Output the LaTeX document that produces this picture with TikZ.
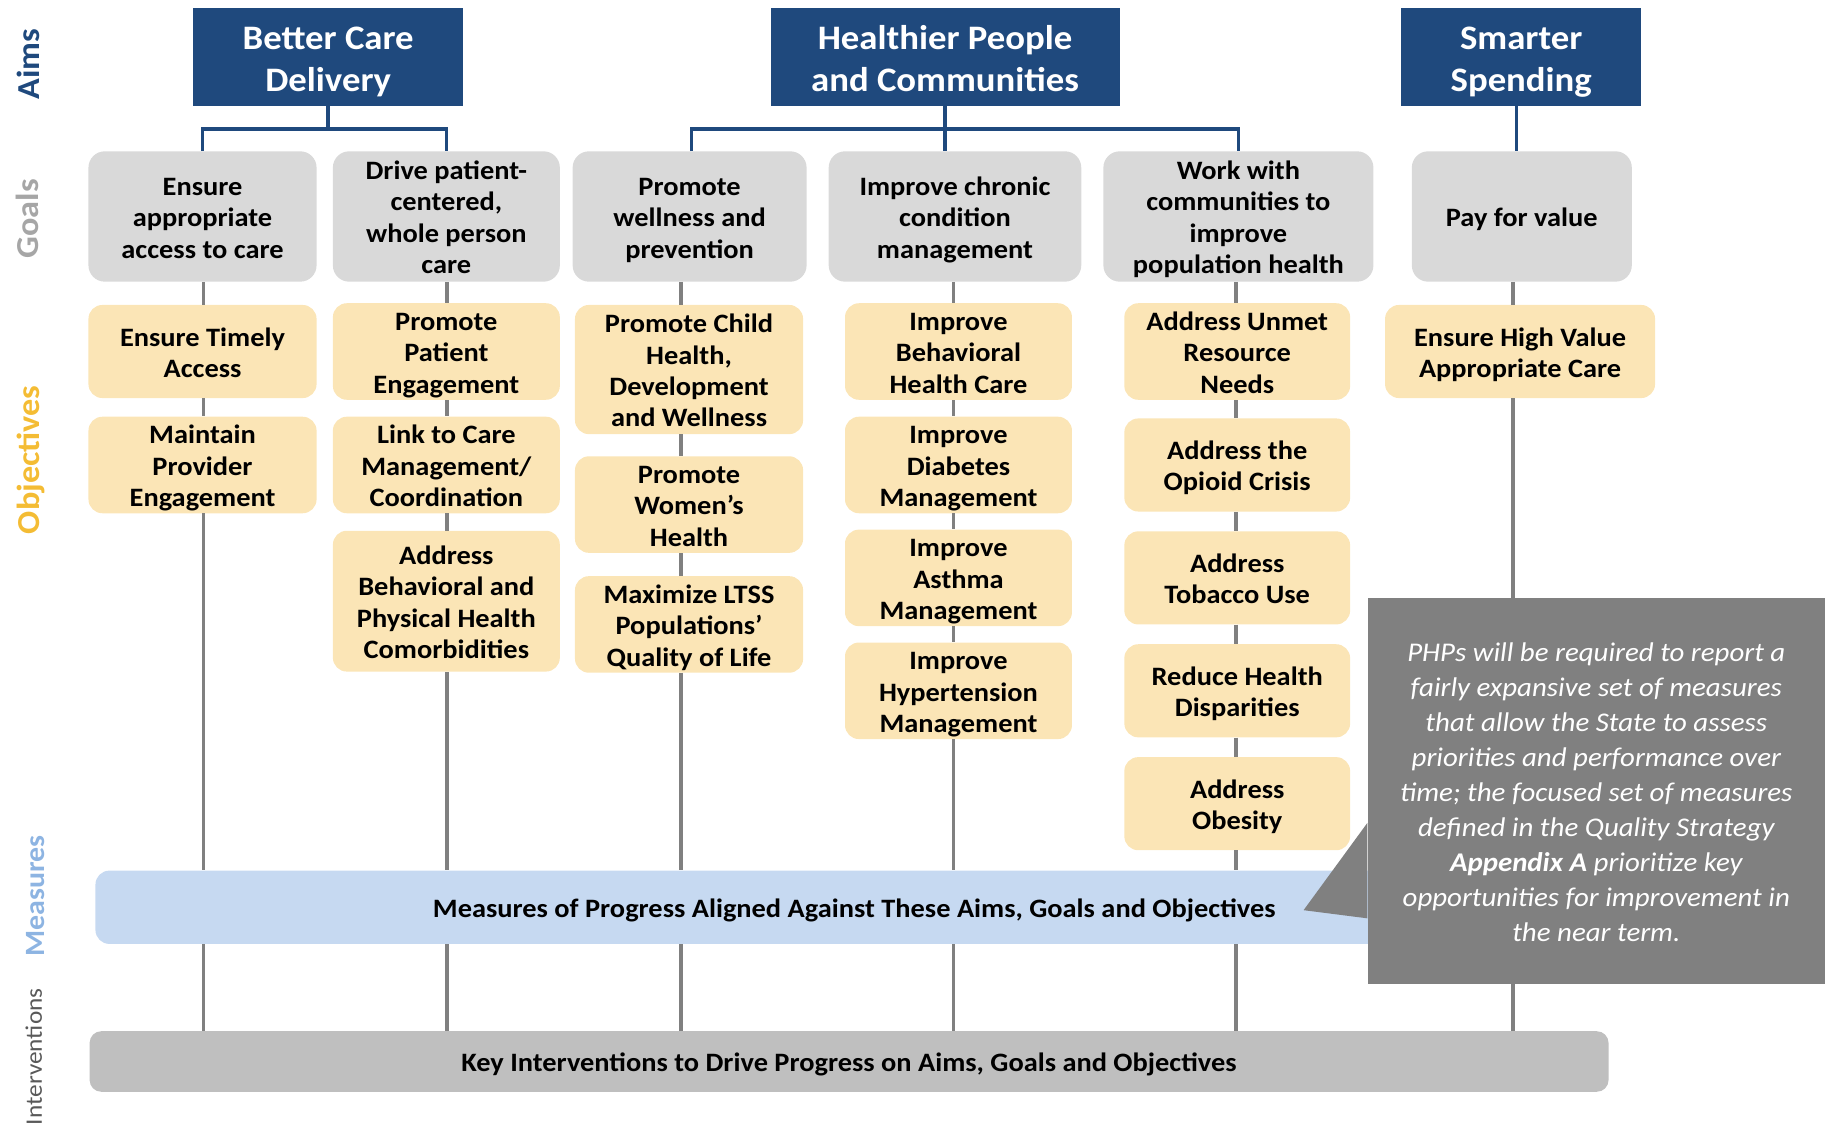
\documentclass[tikz,border=0pt]{standalone}
\usepackage{fontspec}
\setmainfont{Carlito}[FakeStretch=1.07]
\usepackage{xcolor}
\usepackage{tikz}
\definecolor{aimblue}{RGB}{31,73,125}
\definecolor{goalgray}{RGB}{217,217,217}
\definecolor{objyellow}{RGB}{251,229,182}
\definecolor{measblue}{RGB}{198,217,241}
\definecolor{intgray}{RGB}{191,191,191}
\definecolor{linegray}{RGB}{128,128,128}
\definecolor{notegray}{RGB}{128,128,128}
\definecolor{goallbl}{RGB}{166,166,166}
\definecolor{objlbl}{RGB}{244,188,52}
\definecolor{measlbl}{RGB}{141,180,226}
\definecolor{intlbl}{RGB}{89,89,89}
\tikzset{
    pptext/.style={execute at begin node={\rule{0pt}{1.02em}},
      execute at end node={\rule[-0.25em]{0pt}{0.25em}}},
    boxw/.style={minimum width=#1,text width=#1-8pt},
    aim/.style={pptext,fill=aimblue,text=white,inner sep=0pt,align=flush center,
      minimum height=84pt,font=\bfseries\fontsize{29.5}{36}\selectfont},
    goal/.style={pptext,fill=goalgray,rounded corners=14pt,inner sep=0pt,align=flush center,
      minimum height=112pt,font=\bfseries\fontsize{22.8}{27}\selectfont},
    obj/.style={pptext,fill=objyellow,rounded corners=12pt,inner sep=0pt,align=flush center,
      minimum height=80pt,font=\bfseries\fontsize{22.8}{27}\selectfont},
    bar/.style={pptext,rounded corners=12pt,inner sep=0pt,font=\bfseries\fontsize{22.8}{27}\selectfont},
    lbl/.style={rotate=90,anchor=base,inner sep=0pt,font=\bfseries\fontsize{27.5}{30}\selectfont},
    conn/.style={draw=linegray,line width=3pt},
    aimconn/.style={draw=aimblue,line width=3pt}
}

\begin{document}
\begin{tikzpicture}[x=1pt,y=-1pt]
    \useasboundingbox (0,0) rectangle (1568,967);
    % row labels
    \node[lbl,text=aimblue] (laims) at (34,55) {Aims};
    \node[lbl,text=goallbl] (lgoals) at (33,188) {Goals};
    \node[lbl,text=objlbl] (lobj) at (34,395) {Objectives};
    \node[lbl,text=measlbl,font=\bfseries\fontsize{24}{26}\selectfont] (lmeas) at (38,770) {Measures};
    \node[lbl,text=intlbl,font=\fontsize{20.3}{22}\selectfont] (lint) at (36,908) {Interventions};
    %
    % aims
    \node[aim,boxw=232pt] (bcd) at (282,49) {Better Care\\Delivery};
    \node[aim,boxw=300pt] (hpc) at (812,49) {Healthier People\\and Communities};
    \node[aim,boxw=206pt] (ss) at (1307,49) {Smarter\\Spending};
    %
    % goals
    \node[goal,boxw=196pt] (g1) at (174,186) {Ensure\\appropriate\\access to care};
    \node[goal,boxw=195pt] (g2) at (383.5,186) {Drive patient-\\centered,\\whole person\\care};
    \node[goal,boxw=201pt] (g3) at (592.5,186) {Promote\\wellness and\\prevention};
    \node[goal,boxw=217pt] (g4) at (820.5,186) {Improve chronic\\condition\\management};
    \node[goal,boxw=232pt] (g5) at (1064,186) {Work with\\communities to\\improve\\population health};
    \node[goal,boxw=189pt] (g6) at (1307.5,186) {Pay for value};
    %
    % objectives
    \begin{scope}[nodes={boxw=196pt}]
     \node[obj] (o11) at (174,302) {Ensure Timely\\Access};
     \node[obj] (o12) at (174,399.5) {Maintain\\Provider\\Engagement};
    \end{scope}
    \begin{scope}[nodes={boxw=195pt}]
     \node[obj] (o21) at (383.5,302) {Promote\\Patient\\Engagement};
     \node[obj] (o22) at (383.5,399.5) {Link to Care\\Management/\\Coordination};
     \node[obj,minimum height=121pt] (o23) at (383.5,516.5) {Address\\Behavioral and\\Physical Health\\Comorbidities};
    \end{scope}
    \begin{scope}[nodes={boxw=196pt}]
     \node[obj,minimum height=111pt] (o31) at (592,317.5) {Promote Child\\Health,\\Development\\and Wellness};
     \node[obj] (o32) at (592,433.5) {Promote\\Women’s\\Health};
     \node[obj] (o33) at (592,536.5) {Maximize LTSS\\Populations’\\Quality of Life};
    \end{scope}
    \begin{scope}[nodes={boxw=195pt}]
     \node[obj] (o41) at (823.5,302) {Improve\\Behavioral\\Health Care};
     \node[obj] (o42) at (823.5,399.5) {Improve\\Diabetes\\Management};
     \node[obj] (o43) at (823.5,496.5) {Improve\\Asthma\\Management};
     \node[obj] (o44) at (823.5,593.5) {Improve\\Hypertension\\Management};
    \end{scope}
    \begin{scope}[nodes={boxw=194pt}]
     \node[obj] (o51) at (1063,302) {Address Unmet\\Resource\\Needs};
     \node[obj] (o52) at (1063,399.5) {Address the\\Opioid Crisis};
     \node[obj] (o53) at (1063,496.5) {Address\\Tobacco Use};
     \node[obj] (o54) at (1063,593.5) {Reduce Health\\Disparities};
     \node[obj] (o55) at (1063,690.5) {Address\\Obesity};
    \end{scope}
    \node[obj,boxw=232pt] (o61) at (1306,302) {Ensure High Value\\Appropriate Care};
    %
    % measures and interventions
    \node[bar,fill=measblue,minimum width=1304pt,minimum height=63pt] (meas) at (734,779.5)
      {Measures of Progress Aligned Against These Aims, Goals and Objectives};
    \node[bar,fill=intgray,rounded corners=10pt,minimum width=1305pt,minimum height=52pt] (keyint) at (729.5,912)
      {Key Interventions to Drive Progress on Aims, Goals and Objectives};
    %
    % aim connectors
    \coordinate (bcdj) at (282,111);
    \coordinate (hpcj) at (812,111);
    \draw[aimconn] (bcd.south) -- (bcdj) (g1.north) |- (bcdj) -| (g2.north);
    \draw[aimconn] (hpc.south) -- (hpcj) -- (hpcj|-g4.north)
      ([xshift=1.5pt]g3.north) |- (hpcj) -| (g5.north);
    \draw[aimconn] ([xshift=-4pt]ss.south) -- ([xshift=-4pt]ss.south|-g6.north);
    %
    % column lines
    \foreach \i/\x in {1/175,2/384,3/585,4/819,5/1062,6/1300}
      \coordinate (c\i) at (\x,0);
    \foreach \a/\b/\col in {g1/o11/c1,o11/o12/c1,o12/meas/c1,meas/keyint/c1,
        g2/o21/c2,o21/o22/c2,o22/o23/c2,o23/meas/c2,meas/keyint/c2,
        g3/o31/c3,o31/o32/c3,o32/o33/c3,o33/meas/c3,meas/keyint/c3,
        g4/o41/c4,o41/o42/c4,o42/o43/c4,o43/o44/c4,o44/meas/c4,meas/keyint/c4,
        g5/o51/c5,o51/o52/c5,o52/o53/c5,o53/o54/c5,o54/o55/c5,o55/meas/c5,meas/keyint/c5,
        g6/o61/c6,o61/meas/c6,meas/keyint/c6}
      \draw[conn] (\a.south-|\col) -- (\b.north-|\col);
    %
    % callout
    \node[pptext,fill=notegray,text=white,align=flush center,inner sep=0pt,boxw=393pt,minimum height=331pt,
      font=\itshape\fontsize{23.2}{30.1}\selectfont] (note) at (1371.5,679.5)
      {PHPs will be required to report a\\fairly expansive set of measures\\that allow the State to assess\\
       priorities and performance over\\time; the focused set of measures\\defined in the Quality Strategy\\
       \textbf{Appendix A} prioritize key\\opportunities for improvement in\\the near term.};
    \coordinate (tip) at (1120,782);
    \fill[notegray] (note.west|-0,707) -- (tip) -- (note.west|-0,789) -- cycle;
\end{tikzpicture}
\end{document}
